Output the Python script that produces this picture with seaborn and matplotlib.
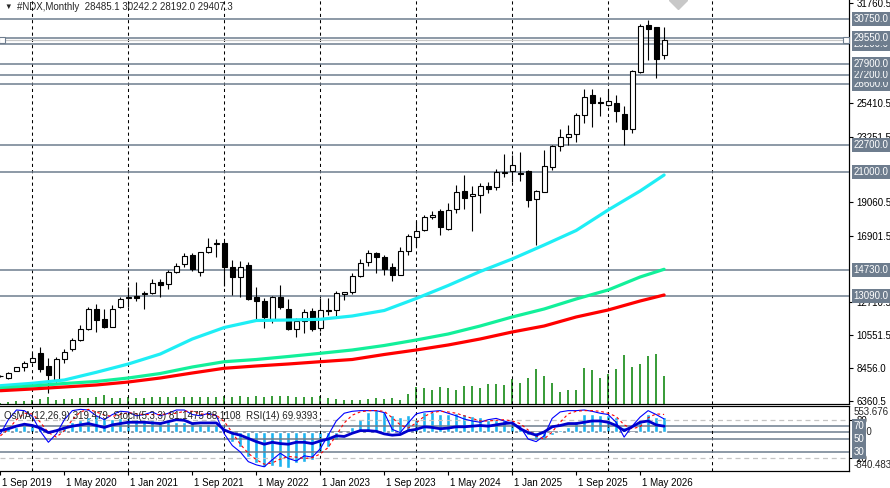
import numpy as np
import pandas as pd
import seaborn as sns
import matplotlib.pyplot as plt
from matplotlib.transforms import ScaledTranslation

# #NDX monthly bars, Sep 2019 .. Aug 2026
opens = [7940, 7814, 8280, 8516, 8835, 9410, 8618, 7686, 9046, 9666,
         10260, 10983, 12222, 11583, 11110, 12388, 12960, 13072, 13200, 13282,
         13966, 13819, 14605, 15097, 15710, 14624, 15863, 16420, 16439, 14944,
         14305, 15033, 12988, 12733, 11602, 12988, 12222, 10983, 11455, 12133,
         11046, 12178, 12178, 13200, 13327, 14349, 15244, 15799, 15544, 14905,
         14432, 15927, 16860, 17288, 18138, 18483, 17333, 18649, 19761, 19461,
         19505, 20100, 20017, 20960, 21039, 20950, 21039, 19250, 19716, 21294,
         22655, 23211, 23422, 24616, 25894, 25466, 25255, 25383, 24700, 23722,
         27383, 30367, 30239, 28485.1]
highs = [8040, 8200, 8560, 8918, 9410, 9794, 9129, 9155, 9666, 10369,
         11199, 12350, 12561, 12261, 12478, 12988, 13628, 13966, 13411, 14139,
         14139, 14733, 15199, 15799, 15799, 15902, 16796, 16694, 16605, 15372,
         15327, 15224, 13628, 12963, 13072, 13755, 12899, 11647, 12222, 12286,
         12944, 12944, 13411, 13327, 14560, 15455, 16011, 15902, 15691, 15161,
         16183, 17033, 17882, 18228, 18521, 18649, 19033, 20183, 20822, 20100,
         20310, 20355, 21205, 22144, 22099, 22272, 21122, 19844, 22400, 22738,
         23760, 23978, 24744, 26278, 26278, 25767, 26278, 25894, 25211, 27511,
         30450, 30705, 30277, 30242.2]
lows = [7880, 7750, 8250, 8280, 8771, 8197, 6855, 7600, 8771, 9576,
        10177, 10899, 10752, 11008, 11072, 12286, 12388, 12771, 12261, 13200,
        12988, 13500, 14522, 14944, 14688, 14349, 15799, 15544, 13730, 13136,
        12988, 12816, 11538, 11046, 11327, 12242, 10899, 10471, 10688, 10816,
        10816, 11858, 11750, 12816, 13200, 14266, 14988, 14560, 14432, 14049,
        14400, 15710, 16183, 17205, 17972, 16988, 17288, 18394, 18649, 17243,
        18394, 19633, 19844, 20694, 20355, 20400, 18777, 16311, 19700, 21122,
        22355, 22738, 22911, 24106, 23850, 24572, 25211, 24189, 22700, 23467,
        27300, 28150, 26999, 28192.0]
closes = [7970, 8133, 8516, 8771, 9091, 8388, 8044, 9046, 9474, 10260,
          10944, 12222, 11519, 11110, 12261, 12861, 12990, 12963, 13244, 13883,
          13755, 14605, 14988, 15627, 14797, 15863, 16183, 16439, 14944, 14266,
          14905, 12899, 12733, 11750, 12988, 12350, 10983, 11455, 12050, 10983,
          12178, 12095, 13282, 13327, 14349, 15199, 15799, 15544, 14816, 14432,
          15966, 16905, 17205, 18100, 18266, 17499, 18566, 19716, 19352, 19588,
          20100, 19927, 20994, 20990, 21422, 20866, 19205, 19761, 21377, 22655,
          23211, 23422, 24616, 25805, 25422, 25383, 25511, 24910, 23722, 27428,
          30322, 30149, 28233, 29407.3]
volumes = [10, 20, 30, 30, 40, 50, 70, 40, 50, 50,
           60, 60, 70, 90, 60, 60, 70, 60, 60, 70,
           70, 70, 70, 70, 70, 70, 70, 70, 80, 70,
           80, 70, 80, 70, 80, 80, 80, 70, 70, 70,
           80, 60, 50, 40, 40, 40, 50, 60, 50, 60,
           40, 100, 166, 153, 140, 166, 153, 133, 173, 173,
           153, 193, 193, 187, 250, 206, 260, 346, 273, 206,
           113, 133, 133, 353, 333, 253, 300, 346, 483, 366,
           400, 473, 500, 273]

# moving averages, read every 4th bar
ma_idx = [0, 4, 8, 12, 16, 20, 24, 28, 32, 36, 40, 44, 48, 52, 56, 60, 64, 68, 72, 76, 80, 83]
ma_fast = [7341, 7495, 7705, 8197, 8727, 9366, 10325, 11059, 11506, 11538, 11583,
           11794, 12145, 12912, 13743, 14637, 15436, 16330, 17257, 18566, 19780, 20802]
ma_mid = [7175, 7322, 7482, 7609, 7833, 8120, 8535, 8874, 9014, 9206, 9410,
          9622, 9909, 10261, 10644, 11155, 11730, 12242, 12880, 13455, 14286, 14778]
ma_slow = [7021, 7130, 7258, 7386, 7577, 7833, 8152, 8455, 8600, 8727, 8874,
           9015, 9334, 9622, 9942, 10325, 10772, 11155, 11730, 12178, 12752, 13136]

# indicator window
osma = [96, 124, 110, 146, 146, 110, 40, 74, 139, 210,
        267, 325, 353, 310, 289, 310, 310, 289, 267, 253,
        239, 239, 225, 225, 210, 182, 167, 146, 39, -212,
        -319, -533, -676, -748, -734, -748, -783, -676, -641, -605,
        -462, -319, -176, 10, 110, 289, 432, 482, 432, 360,
        325, 360, 289, 432, 432, 396, 382, 410, 396, 339,
        325, 267, 267, 253, 217, 110, -69, -162, -176, -69,
        39, 110, 239, 382, 396, 360, 360, 325, 110, -10,
        239, 396, 325, 319.479]
stoch_main = [58, 80, 95, 94, 85, 62, 45, 58, 80, 94,
              96, 95, 86, 80, 88, 93, 92, 86, 88, 92,
              86, 90, 95, 95, 88, 86, 90, 86, 58, 40,
              30, 15, 10, 7, 18, 28, 20, 16, 24, 22,
              35, 56, 78, 90, 93, 94, 94, 94, 91, 65,
              60, 75, 89, 92, 93, 94, 90, 86, 81, 78,
              76, 80, 82, 78, 74, 69, 50, 46, 55, 82,
              92, 94, 94, 95, 93, 90, 88, 76, 53, 70,
              84, 94, 88, 81.1475]
stoch_signal = [55, 65, 80, 90, 89, 76, 60, 53, 63, 80,
                92, 96, 92, 87, 85, 88, 91, 89, 88, 88,
                88, 89, 90, 93, 93, 89, 88, 87, 77, 60,
                42, 28, 18, 11, 13, 19, 23, 22, 20, 21,
                27, 37, 56, 75, 87, 92, 94, 94, 93, 83,
                72, 67, 75, 85, 91, 93, 92, 90, 86, 82,
                78, 78, 79, 80, 78, 74, 64, 55, 50, 61,
                76, 89, 93, 94, 94, 93, 90, 85, 72, 66,
                69, 83, 89, 88.1108]
rsi = [63, 66, 70, 73, 71, 67, 60, 63, 67, 70,
       72, 74, 71, 68, 72, 74, 76, 76, 76, 75,
       74, 77, 80, 79, 74, 75, 75, 75, 64, 59,
       56, 51, 46, 42, 45, 43, 42, 45, 45, 43,
       47, 50, 55, 54, 59, 63, 63, 62, 58, 56,
       57, 63, 65, 69, 68, 66, 67, 69, 69, 70,
       71, 70, 72, 74, 75, 66, 60, 56, 61, 69,
       71, 74, 74, 76, 78, 78, 76, 71, 63, 69,
       76, 78, 72, 69.9393]

level_lines = [30750, 29550, 29200, 27900, 27200, 26600, 22700, 21000, 14730, 13090]
bid_price = 29407.3
axis_prices = [31760.5, 25410.5, 23251.5, 19060.5, 16901.5, 12710.5, 10551.5, 8456.0, 6360.5]
date_labels = ['1 Sep 2019', '1 May 2020', '1 Jan 2021', '1 Sep 2021', '1 May 2022', '1 Jan 2023',
               '1 Sep 2023', '1 May 2024', '1 Jan 2025', '1 Sep 2025', '1 May 2026']
date_pos = [0, 8, 16, 24, 32, 40, 48, 56, 64, 72, 80]
year_grid = [4, 16, 28, 40, 52, 64, 76, 89]

df = pd.DataFrame({'open': opens, 'high': highs, 'low': lows, 'close': closes,
                   'vol': volumes, 'osma': osma, 'k': stoch_main, 'd': stoch_signal, 'rsi': rsi})
df['bar'] = np.arange(len(df))
ma = pd.DataFrame({'bar': ma_idx, 'fast': ma_fast, 'mid': ma_mid, 'slow': ma_slow})

sns.set_theme(style="white")
plt.rcParams['font.family'] = ['Liberation Sans', 'DejaVu Sans']
plt.rcParams['font.size'] = 7

LEVEL = '#6E7D8E'
W, H = 890, 488
fig = plt.figure(figsize=(W / 100, H / 100), dpi=100)
ax = fig.add_axes([0, (H - 403.5) / H, 849.3 / W, 403.5 / H])
ax_s = fig.add_axes([0, (H - 471) / H, 849.3 / W, (471 - 406) / H])
xlim = (-0.05, 106.16)

# ---------- main window ----------
ax_v = ax.twinx()
ax_v.vlines(df['bar'], 0, df['vol'], color='#008000', lw=1.1)
ax_v.set_ylim(0, 4035)
ax_v.set_yticks([])
ax.set_zorder(ax_v.get_zorder() + 1)
ax.patch.set_visible(False)

for x in year_grid:
    ax.axvline(x, color='black', lw=0.75, ls=(0, (3, 3)), zorder=1)
for lv in level_lines:
    ax.axhline(lv, color=LEVEL, lw=1.1, zorder=1)
ax.axhline(bid_price, color='#C8C8C8', lw=0.9, zorder=1)

up = df['close'] >= df['open']
lo = df[['open', 'close']].min(axis=1)
hi = df[['open', 'close']].max(axis=1)
ax.vlines(df['bar'], df['low'], df['high'], color='black', lw=0.8, zorder=3)
ax.bar(df['bar'], hi - lo, bottom=lo, width=0.6, color=np.where(up, 'white', 'black'),
       edgecolor='black', linewidth=0.8, zorder=4)

sns.lineplot(data=ma, x='bar', y='fast', ax=ax, color='#1EEEF5', lw=2.3, zorder=5)
sns.lineplot(data=ma, x='bar', y='mid', ax=ax, color='#12F09A', lw=2.3, zorder=5)
sns.lineplot(data=ma, x='bar', y='slow', ax=ax, color='#FF0000', lw=2.3, zorder=5)

# selection handles and shift marker
ax.plot([0.2, 105.8], [bid_price, bid_price], 's', ms=4.5, mfc='white', mec=LEVEL, mew=0.8,
        clip_on=False, zorder=6)
ax.plot([84.8], [31983], 'D', ms=9, color='#C8C8C8', zorder=6)

ax.set_xlim(*xlim)
ax.set_ylim(6203, 31983)
ax.set_xticks([])
ax.set_xlabel('')
ax.set_ylabel('')
ax.set_yticks(axis_prices)
ax.set_yticklabels([f'{p:.1f}' for p in axis_prices])
ax.tick_params(axis='y', left=False, labelleft=False, right=True, labelright=True,
               length=3, width=0.8, pad=2, labelsize=7, colors='black')
for side in ['left', 'top']:
    ax.spines[side].set_visible(False)
    ax_v.spines[side].set_visible(False)
for side in ['right', 'bottom']:
    ax.spines[side].set_color('black')
    ax.spines[side].set_linewidth(0.8)
    ax_v.spines[side].set_color('black')
    ax_v.spines[side].set_linewidth(0.8)

for lv in level_lines[::-1]:
    ax.annotate(f'{lv:.1f}', xy=(1, lv), xycoords=ax.get_yaxis_transform(),
                xytext=(3, 0), textcoords='offset points', va='center', ha='left',
                fontsize=7, color='white', annotation_clip=False, zorder=10,
                bbox=dict(boxstyle='square,pad=0.2', fc=LEVEL, ec='none'))

fig.text(4 / W, 1 - 7 / H, '\u25bc', fontsize=5.5, va='center', ha='left')
fig.text(17 / W, 1 - 7 / H, '#NDX,Monthly  28485.1 30242.2 28192.0 29407.3',
         fontsize=7, va='center', ha='left')

# ---------- indicator window ----------
ax_o = ax_s.twinx()
ax_o.bar(df['bar'], df['osma'], width=0.5, color='#1EB4F0', zorder=2)
ax_o.axhline(0, color=LEVEL, lw=1.1, zorder=1)
ax_o.set_ylim(-841, 564)
ax_o.set_yticks([])
ax_o.set_ylabel('')
ax_s.set_zorder(ax_o.get_zorder() + 1)
ax_s.patch.set_visible(False)

for x in year_grid:
    ax_s.axvline(x, color='black', lw=0.75, ls=(0, (3, 3)), zorder=1)
for lv in [80, 20]:
    ax_s.axhline(lv, color='#C4C4C4', lw=0.9, ls=(0, (4, 3)), zorder=1)
for lv in [70, 50, 30]:
    ax_s.axhline(lv, color=LEVEL, lw=1.1, zorder=1)

sns.lineplot(data=df, x='bar', y='k', ax=ax_s, color='#0000FF', lw=0.8, zorder=4)
sns.lineplot(data=df, x='bar', y='d', ax=ax_s, color='#FF0000', lw=0.8,
             linestyle=(0, (2.5, 2.5)), zorder=4)
sns.lineplot(data=df, x='bar', y='rsi', ax=ax_s, color='#0000CD', lw=2.0, zorder=5)

ax_s.set_xlim(*xlim)
ax_s.set_ylim(0.5, 101.2)
ax_s.set_xlabel('')
ax_s.set_ylabel('')
ax_s.yaxis.tick_right()
ax_s.set_yticks([80, 20])
ax_s.set_yticklabels(['80', '20'])
ax_s.tick_params(axis='y', left=False, labelleft=False, right=True, labelright=True,
                 length=3, width=0.8, pad=2, labelsize=7, colors='black')
ax_s.set_xticks(date_pos)
ax_s.set_xticklabels(date_labels, ha='left')
ax_s.tick_params(axis='x', bottom=True, length=3, width=0.8, pad=2, labelsize=7, colors='black')
for lbl in ax_s.get_xticklabels():
    lbl.set_transform(lbl.get_transform() + ScaledTranslation(2 / 100, 0, fig.dpi_scale_trans))
ax_s.spines['left'].set_visible(False)
ax_o.spines['left'].set_visible(False)
for side in ['right', 'bottom', 'top']:
    for a in (ax_s, ax_o):
        a.spines[side].set_color('black')
        a.spines[side].set_linewidth(0.8)

ax_o.annotate('553.676', xy=(1, 564), xycoords=ax_o.get_yaxis_transform(), xytext=(3, -4.5),
              textcoords='offset points', va='center', ha='left', fontsize=7, annotation_clip=False)
ax_o.annotate('-840.483', xy=(1, -841), xycoords=ax_o.get_yaxis_transform(), xytext=(3, 4.3),
              textcoords='offset points', va='center', ha='left', fontsize=7, annotation_clip=False)
ax_o.annotate('0.00', xy=(1, 0), xycoords=ax_o.get_yaxis_transform(), xytext=(3, 0),
              textcoords='offset points', va='center', ha='left', fontsize=7,
              annotation_clip=False)
for lv in [70, 50, 30]:
    ax_s.annotate(str(lv), xy=(1, lv), xycoords=ax_s.get_yaxis_transform(), xytext=(3, 0),
                  textcoords='offset points', va='center', ha='left', fontsize=7,
                  color='white', annotation_clip=False, zorder=10,
                  bbox=dict(boxstyle='square,pad=0.2', fc=LEVEL, ec='none'))

ax_s.text(4 / 849.3, 0.84, 'OsMA(12,26,9) 319.479  Stoch(5,3,3) 81.1475 88.1108  RSI(14) 69.9393',
          transform=ax_s.transAxes, fontsize=7, va='center', ha='left', color='#222222', zorder=9)

fig.savefig('out.png', dpi=100)
